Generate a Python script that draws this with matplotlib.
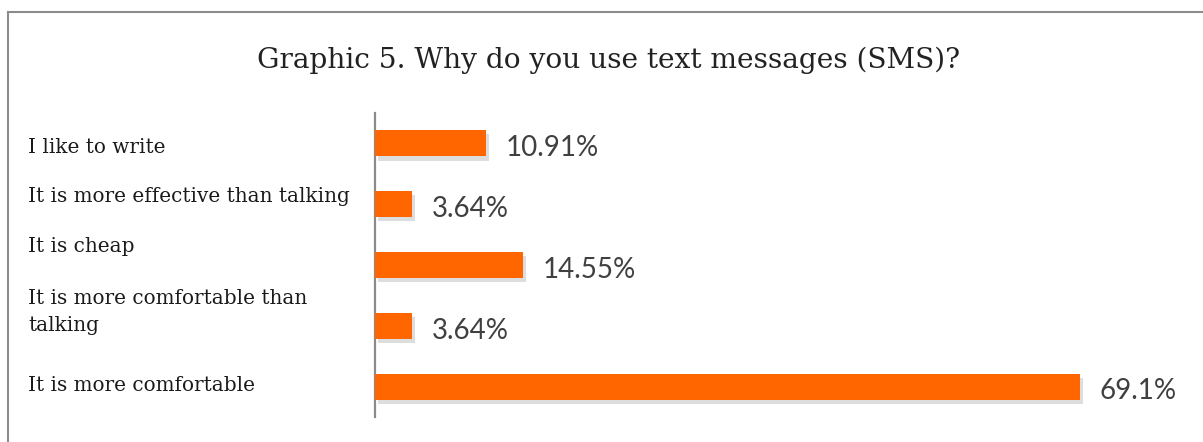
import matplotlib.pyplot as plt
import matplotlib.transforms as mtransforms
import matplotlib.patheffects as pe
from matplotlib.lines import Line2D
import numpy as np

# survey answers, top to bottom
reasons = [
    'I like to write',
    'It is more effective than talking',
    'It is cheap',
    'It is more comfortable than\ntalking',
    'It is more comfortable',
]
shares = [10.91, 3.64, 14.55, 3.64, 69.1]
share_labels = ['10.91%', '3.64%', '14.55%', '3.64%', '69.1%']

# vertical nudge of each category label (pixels, + is down)
label_nudge = [4, -8, -18, -14, -1]

fig = plt.figure(figsize=(12.03, 4.42), dpi=100)
fig.patch.set_facecolor('white')

ax = fig.add_axes([375 / 1203, 1 - 417 / 442, 816 / 1203, 304 / 442])
y = np.arange(len(reasons))
bars = ax.barh(y, shares, height=0.43, color='#FF6600', zorder=3)
for b in bars:
    b.set_path_effects([pe.SimplePatchShadow(offset=(2, -3), shadow_rgbFace='#aaaaaa', alpha=0.4),
                        pe.Normal()])

ax.set_xlim(0, 80)
ax.set_ylim(len(reasons) - 0.5, -0.5)
ax.set_xticks([])
ax.set_yticks([])
for side in ['top', 'right', 'bottom']:
    ax.spines[side].set_visible(False)
ax.spines['left'].set_color('#8a8a8a')
ax.spines['left'].set_linewidth(1.6)

# value labels just past the bar ends
for yi, v, lab in zip(y, shares, share_labels):
    t = mtransforms.offset_copy(ax.transData, fig=fig, x=14, y=-3.5, units='points')
    ax.text(v, yi, lab, transform=t, ha='left', va='center',
            fontsize=20, family='Lato', color='#404040')

# category names, left aligned near the frame
blend = mtransforms.blended_transform_factory(fig.transFigure, ax.transData)
for yi, name, dy in zip(y, reasons, label_nudge):
    t = blend + mtransforms.ScaledTranslation(0, -dy / 100, fig.dpi_scale_trans)
    fig.text(28 / 1203, yi, name, transform=t, ha='left', va='center',
             fontsize=14.4, family='DejaVu Serif', color='#1a1a1a', linespacing=1.5)

fig.text(609 / 1203, 1 - 60 / 442, 'Graphic 5. Why do you use text messages (SMS)?',
         ha='center', va='center', fontsize=20.2, family='DejaVu Serif', color='#222222')

# outer frame (left and top edges)
fig.add_artist(Line2D([8 / 1203, 8 / 1203], [0, 1 - 12 / 442], transform=fig.transFigure,
                      color='#8c8c8c', linewidth=1.5))
fig.add_artist(Line2D([8 / 1203, 1], [1 - 12 / 442, 1 - 12 / 442], transform=fig.transFigure,
                      color='#8c8c8c', linewidth=1.5))

fig.savefig('out.png', dpi=100)
